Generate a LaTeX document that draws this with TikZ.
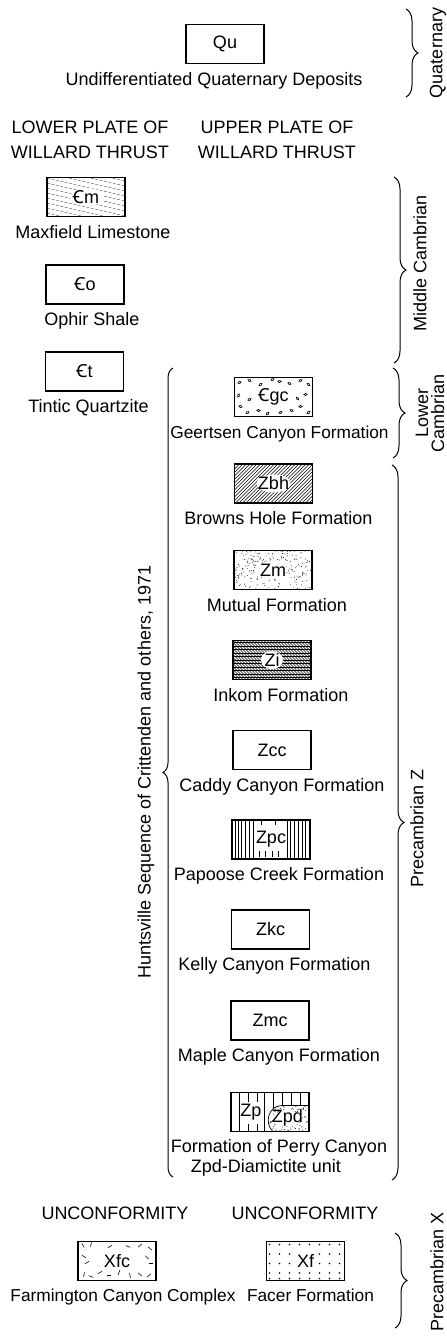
\documentclass[tikz,border=0pt]{standalone}
\usepackage{fontspec}
\setmainfont{Liberation Sans}
\newfontfamily\symfont{Noto Sans}
\usetikzlibrary{positioning,decorations.pathreplacing,backgrounds}
\newcommand{\cmbr}{{\symfont Ꞓ}}

\tikzset{
  rockbox/.style={draw, line width=1.1pt, minimum width=78pt, minimum height=39pt, inner sep=0pt},
  fmn/.style={inner sep=1pt, text height=13pt, text depth=4pt},
  hdr/.style={align=center, inner sep=0pt, font=\fontsize{18}{25}\selectfont},
  era/.style={rotate=90, inner sep=0pt, align=center},
  brc/.style={decorate, decoration={brace, amplitude=#1}, line width=1pt},
  brc/.default=12pt
}

% rock patterns, drawn from the box centre (u right, v down, box is 78 x 39)
\tikzset{
  % limestone: dashed slanting lines
  lime/.pic={%
    \clip (-39,-19.5) rectangle (39,19.5);
    \foreach \k in {-44,-39,...,20}
      \draw[line width=.4pt, black!70, dash pattern=on 3pt off 1.5pt] (-39,\k) -- (39,\k+18);
    \fill[white] (1,0) ellipse (17 and 9);},
  % conglomerate pebbles
  congl/.pic={%
    \clip (-39,-19.5) rectangle (39,19.5);
    \foreach \px/\py/\ang in {5/5/20,15/3/-30,26/7/40,45/4/10,55/6/-20,66/3/30,74/7/-40,
        4/18/60,71/17/10,6/29/-20,13/35/30,24/33/-10,33/36/50,46/35/20,57/33/-30,
        66/29/10,74/35/40,63/21/-50,15/22/20,38/2/30}
      \draw[line width=.6pt, rotate around={\ang:(\px-39,\py-19.5)}] (\px-39,\py-19.5) ellipse (1.8 and 1.1);
    \fill[white] (-1,0) ellipse (17 and 9);},
  hatch/.pic={%
    \clip (-39,-19.5) rectangle (39,19.5);
    \foreach \k in {-80,-76.5,...,40}
      \draw[line width=.55pt] (\k,19.5) -- (\k+39,-19.5);
    \fill[white] (0,0) ellipse (17 and 9);},
  stipple/.pic={%
    \clip (-39,-19.5) rectangle (39,19.5);
    \pgfmathsetseed{11}
    \foreach \i in {1,...,260}
      \fill ({rnd*78-39},{rnd*39-19.5}) circle (.45);
    \fill[white] (0,0) ellipse (14 and 9);},
  crossh/.pic={%
    \clip (-39,-19.5) rectangle (39,19.5);
    \foreach \k in {-80,-77,...,40}
      \draw[line width=.5pt] (\k,-19.5) -- (\k+39,19.5);
    \foreach \k in {-17.5,-14,...,18}
      \draw[line width=.45pt] (-39,\k) -- (39,\k);
    \fill[white] (0,0) ellipse (11 and 9);},
  vlines/.pic={%
    \foreach \px in {-36,-33,-29.5,-26,-22,-18,16,19.5,23,27,31,34.5}
      \draw[line width=.5pt] (\px,-19.5) -- (\px,19.5);
    \foreach \px in {-12,-6,1,7}
      \draw[line width=.5pt] (\px,11.5) -- (\px,17.5);
    \foreach \px in {-10,4}
      \draw[line width=.5pt] (\px,-18.5) -- (\px,-14.5);},
  perry/.pic={%
    \foreach \px in {-31,-22,-13,-6,3,12,21,30}
      \draw[line width=.5pt] (\px,-19.5) -- (\px,19.5);
    \fill[white] (-30,-10.5) rectangle (-7,11.5);
    \fill[white] (39,-6.5) -- (12,-6.5) .. controls (-2,-6.5) and (-6,11.5) .. (3,19.5) -- (39,19.5) -- cycle;
    \begin{scope}
      \clip (39,-6.5) -- (12,-6.5) .. controls (-2,-6.5) and (-6,11.5) .. (3,19.5) -- (39,19.5) -- cycle;
      \pgfmathsetseed{5}
      \foreach \i in {1,...,130} \fill ({-3+rnd*42},{-6.5+rnd*26}) circle (.45);
    \end{scope}
    \draw[line width=.7pt] (39,-6.5) -- (12,-6.5) .. controls (-2,-6.5) and (-6,11.5) .. (3,19.5);
    \fill[white] (18,6.5) ellipse (13 and 7.5);},
  gneiss/.pic={%
    \clip (-39,-19.5) rectangle (39,19.5);
    \foreach \px/\py/\ang in {5/4/60,13/3/100,32/5/150,50/5/20,62/4/140,72/7/40,
       6/15/30,9/21/150,69/16/45,73/22/0,6/33/100,13/35/20,22/31/150,31/34/0,41/31/110,
       52/34/80,62/33/40,71/34/140}
      \draw[line width=.6pt] (\px-39,\py-19.5) ++(\ang:-2.4) -- ++(\ang:4.8);},
  dotgrid/.pic={%
    \foreach \px in {-36,-26,...,36} \foreach \py in {-16.5,-7,2.5,12,17.5}
      \fill (\px,\py) circle (.85);
    \fill[white] (0,0) ellipse (13 and 9);}
}

\begin{document}
\begin{tikzpicture}[x=1pt, y=-1pt, font=\fontsize{18}{21}\selectfont]
\useasboundingbox (0,0) rectangle (447,1336);

% Quaternary
\node[rockbox] (qu) at (225,44) {Qu};
\node[fmn, below=7pt of qu, xshift=-11pt] (qudep) {Undifferentiated Quaternary Deposits};
\coordinate (qtop) at (406,9);
\coordinate (qbot) at (406,97);
\draw[brc] (qtop) -- (qbot);
\node[era] (quat) at (438,53) {Quaternary};

% column heads
\node[hdr] (lowhd) at (90,139.5) {LOWER PLATE OF\\WILLARD THRUST};
\node[hdr] (uphd) at (277,139.5) {UPPER PLATE OF\\WILLARD THRUST};

% lower plate, Cambrian
\node[rockbox] (cm) at (86,197) {\cmbr m};
\node[fmn, below=7pt of cm, xshift=7pt] (maxf) {Maxfield Limestone};
\node[rockbox] (co) at (85,284.5) {\cmbr o};
\node[fmn, below=7pt of co, xshift=7pt] (ophir) {Ophir Shale};
\node[rockbox] (ct) at (84.5,371.5) {\cmbr t};
\node[fmn, below=7pt of ct, xshift=4pt] (tintic) {Tintic Quartzite};

% upper plate
\node[rockbox] (cgc) at (273.5,397) {\cmbr gc};
\node[fmn, below=7pt of cgc, xshift=6pt, font=\fontsize{17.3}{20}\selectfont] (geert) {Geertsen Canyon Formation};
\node[rockbox] (zbh) at (273.5,483.5) {Zbh};
\node[fmn, below=7pt of zbh, xshift=5pt] (browns) {Browns Hole Formation};
\node[rockbox] (zm) at (273,570) {Zm};
\node[fmn, below=7pt of zm, xshift=4pt] (mutual) {Mutual Formation};
\node[rockbox] (zi) at (272,660) {Zi};
\node[fmn, below=7pt of zi, xshift=9pt] (inkom) {Inkom Formation};
\node[rockbox] (zcc) at (272,750) {Zcc};
\node[fmn, below=7pt of zcc, xshift=10pt] (caddy) {Caddy Canyon Formation};
\node[rockbox] (zpc) at (271,839.5) {Zpc};
\node[fmn, below=7pt of zpc, xshift=8pt] (papoose) {Papoose Creek Formation};
\node[rockbox] (zkc) at (270.5,929.5) {Zkc};
\node[fmn, below=7pt of zkc, xshift=4pt] (kelly) {Kelly Canyon Formation};
\node[rockbox] (zmc) at (270,1020.5) {Zmc};
\node[fmn, below=7pt of zmc, xshift=9pt] (maple) {Maple Canyon Formation};
\node[rockbox] (zp) at (270,1112) {};
\node[inner sep=0pt] (zptag) at ([shift={(20.5,20)}]zp.north west) {Zp};
\node[inner sep=0pt] (zpdtag) at ([shift={(57,26)}]zp.north west) {Zpd};
\node[fmn, below=6pt of zp, xshift=9pt] (perryn) {Formation of Perry Canyon};
\node[fmn, below=1pt of perryn, xshift=-13pt] (diam) {Zpd-Diamictite unit};

% Huntsville sequence
\coordinate (hbot) at (173,1177);
\coordinate (htop) at (173,368);
\draw[brc=10pt] (hbot) -- (htop);
\node[era] (hunts) at (146,772) {Huntsville Sequence of Crittenden and others, 1971};

% ages on the right
\coordinate (mctop) at (394,177);
\coordinate (mcbot) at (394,363);
\draw[brc] (mctop) -- (mcbot);
\node[era] (midc) at (420,263) {Middle Cambrian};
\coordinate (lctop) at (393,368);
\coordinate (lcbot) at (393,458);
\draw[brc] (lctop) -- (lcbot);
\node[era, font=\fontsize{18}{16}\selectfont] (lowc) at (430,413) {Lower\\Cambrian};
\coordinate (pztop) at (392,465);
\coordinate (pzbot) at (392,1180);
\draw[brc] (pztop) -- (pzbot);
\node[era] (prez) at (417,828) {Precambrian Z};

% Precambrian X
\node (unconl) at (115,1213) {UNCONFORMITY};
\node (unconr) at (305,1213) {UNCONFORMITY};
\node[rockbox] (xfc) at (117,1261) {Xfc};
\node[fmn, below=6pt of xfc, xshift=6pt, font=\fontsize{17.3}{20}\selectfont] (farm) {Farmington Canyon Complex};
\node[rockbox] (xf) at (305.5,1261) {Xf};
\node[fmn, below=6pt of xf, xshift=5pt, font=\fontsize{17.3}{20}\selectfont] (facer) {Facer Formation};
\coordinate (pxtop) at (395,1233);
\coordinate (pxbot) at (395,1328);
\draw[brc] (pxtop) -- (pxbot);
\node[era] (prex) at (437,1272) {Precambrian X};

% patterns behind the boxes
\begin{scope}[on background layer]
  \pic at (cm) {lime};
  \pic at (cgc) {congl};
  \pic at (zbh) {hatch};
  \pic at (zm) {stipple};
  \pic at (zi) {crossh};
  \pic at (zpc) {vlines};
  \pic at (zp) {perry};
  \pic at (xfc) {gneiss};
  \pic at (xf) {dotgrid};
\end{scope}
\end{tikzpicture}
\end{document}
